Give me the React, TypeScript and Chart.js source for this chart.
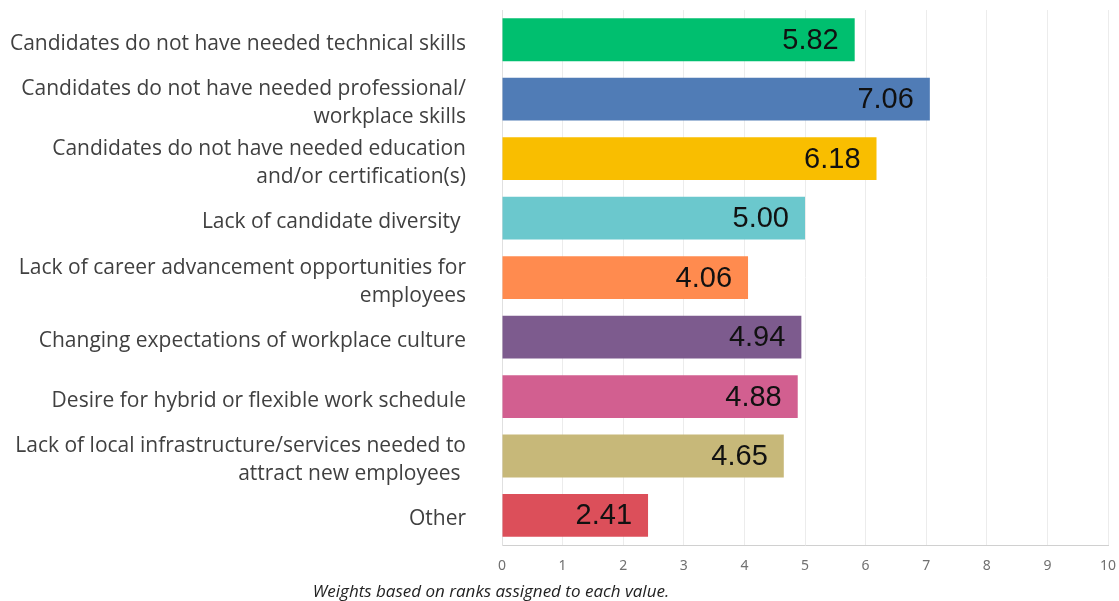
import React, { useEffect, useRef } from "react";
import { Chart, registerables } from "chart.js";

Chart.register(...registerables);

const categories: (string | string[])[] = [
  "Candidates do not have needed technical skills",
  ["Candidates do not have needed professional/", "workplace skills"],
  ["Candidates do not have needed education", "and/or certification(s)"],
  "Lack of candidate diversity ",
  ["Lack of career advancement opportunities for", "employees"],
  "Changing expectations of workplace culture",
  "Desire for hybrid or flexible work schedule",
  ["Lack of local infrastructure/services needed to", "attract new employees "],
  "Other",
];
const values: number[] = [5.82, 7.06, 6.18, 5.0, 4.06, 4.94, 4.88, 4.65, 2.41];
const colors: string[] = [
  "#00BF6F",
  "#507CB6",
  "#F9BE00",
  "#6BC8CD",
  "#FF8B4F",
  "#7D5B8E",
  "#D25F90",
  "#C7B879",
  "#DC4F5A",
];
const caption = "Weights based on ranks assigned to each value.";

const valueLabels = {
  id: "valueLabels",
  afterDatasetsDraw(chart: any) {
    const ctx = chart.ctx;
    const meta = chart.getDatasetMeta(0);
    ctx.save();
    ctx.font = "29px 'Liberation Sans', Arial, sans-serif";
    ctx.fillStyle = "#111111";
    ctx.textAlign = "right";
    ctx.textBaseline = "middle";
    meta.data.forEach((bar: any, i: number) => {
      const v = values[i];
      ctx.fillText(v.toFixed(2), bar.x - 16, bar.y + 1);
    });
    ctx.restore();
  },
};

export default function App() {
  const ref = useRef<HTMLCanvasElement | null>(null);
  useEffect(() => {
    if (!ref.current) return;
    const chart = new Chart(ref.current, {
      type: "bar",
      data: {
        labels: categories,
        datasets: [
          {
            data: values,
            backgroundColor: colors,
            borderWidth: 0,
            barPercentage: 0.8,
            categoryPercentage: 0.9,
          },
        ],
      },
      options: {
        indexAxis: "y",
        animation: false,
        responsive: false,
        maintainAspectRatio: false,
        layout: { padding: { top: 10, right: 11, bottom: 15, left: 0 } },
        plugins: {
          legend: { display: false },
          tooltip: { enabled: false },
        },
        scales: {
          x: {
            min: 0,
            max: 10,
            afterFit: (scale: any) => {
              scale.paddingLeft = 0;
              scale.paddingRight = 0;
            },
            ticks: {
              stepSize: 1,
              color: "#707070",
              font: { family: "'Noto Sans', sans-serif", size: 14 },
              padding: 12,
            },
            grid: { color: "#ECECEC", drawTicks: false },
            border: { color: "#D0D0D0" },
          },
          y: {
            afterFit: (scale: any) => {
              scale.width = 502;
              scale.paddingTop = 0;
              scale.paddingBottom = 0;
            },
            ticks: {
              autoSkip: false,
              color: "#404040",
              font: { family: "'Open Sans', sans-serif", size: 21, lineHeight: 1.33 },
              padding: 36,
              labelOffset: 4,
            },
            grid: { display: false, drawTicks: false },
            border: { color: "#E0E0E0" },
          },
        },
      },
      plugins: [valueLabels],
    });
    return () => chart.destroy();
  }, []);
  return (
    <div style={{ position: "fixed", left: 0, top: 0, width: 1119, height: 601, background: "#fff" }}>
      <canvas ref={ref} width={1119} height={601} style={{ display: "block" }} />
      <div
        style={{
          position: "absolute",
          left: 0,
          width: 982,
          top: 579,
          textAlign: "center",
          fontFamily: "'Open Sans', sans-serif",
          fontStyle: "italic",
          fontSize: 17,
          color: "#222",
        }}
      >
        {caption}
      </div>
    </div>
  );
}
